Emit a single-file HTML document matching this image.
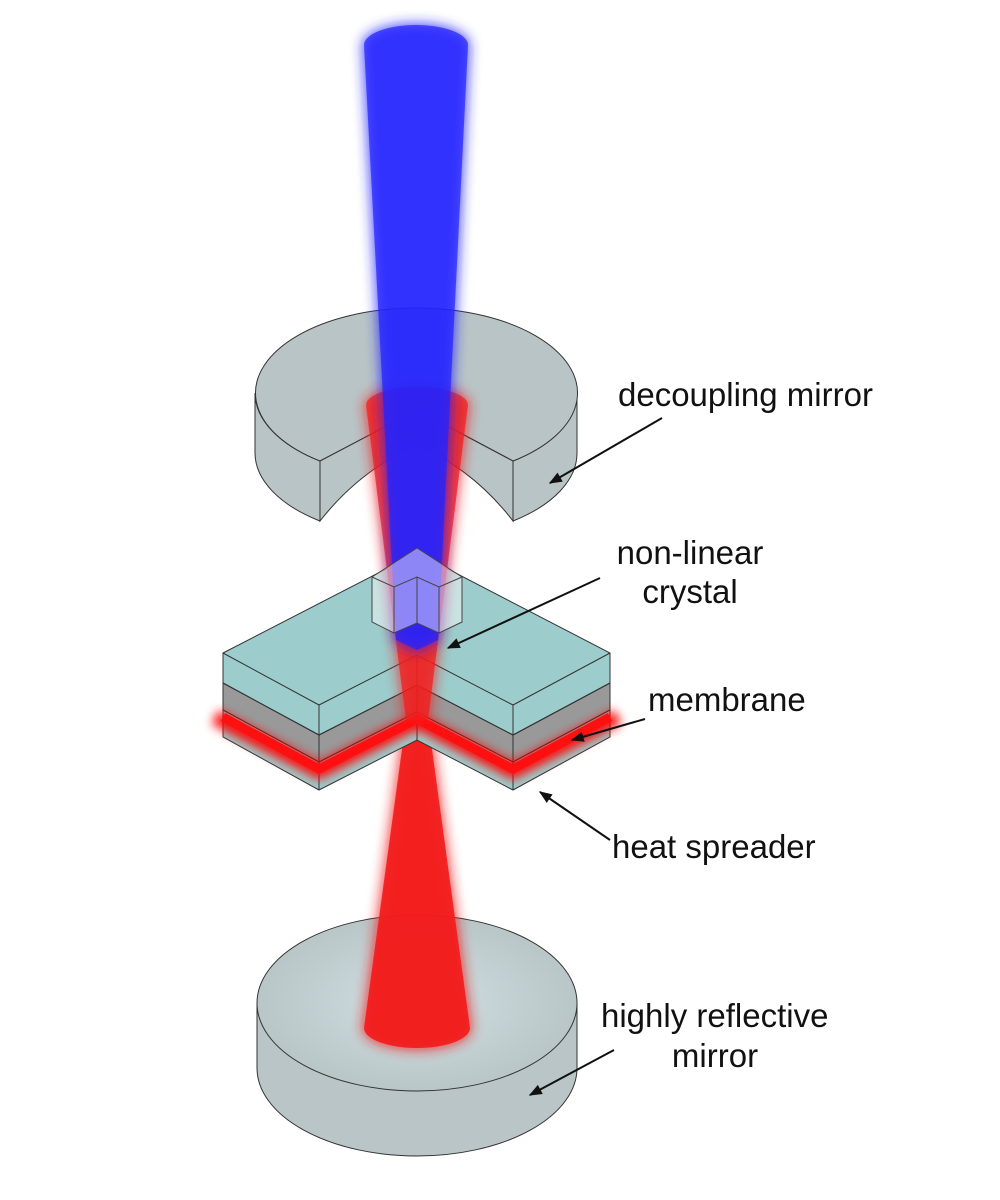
<!DOCTYPE html>
<html><head><meta charset="utf-8"><style>
html,body{margin:0;padding:0;background:#fff}
svg{display:block}
text{font-family:"Liberation Sans",sans-serif;font-size:33px;fill:#111}
</style></head><body>
<svg width="1000" height="1200" viewBox="0 0 1000 1200">
<defs>
<filter id="g" x="-50%" y="-20%" width="200%" height="140%"><feGaussianBlur stdDeviation="6"/></filter>
<filter id="g2" x="-20%" y="-100%" width="140%" height="300%"><feGaussianBlur stdDeviation="5"/></filter>
<radialGradient id="rg" cx="417" cy="1003" r="160" gradientUnits="userSpaceOnUse" gradientTransform="translate(0,1003) scale(1,0.55) translate(0,-1003)">
<stop offset="0" stop-color="#d2dfe2"/><stop offset="1" stop-color="#b9c6c8"/></radialGradient>
<marker id="ar" viewBox="0 0 10 10" refX="9" refY="5" markerWidth="15" markerHeight="13" orient="auto" markerUnits="userSpaceOnUse"><path d="M0,1 L10,5 L0,9 Z" fill="#111"/></marker>
</defs>

<!-- bottom mirror -->
<path d="M257,1003 L257,1068 A160,88 0 0 0 577,1068 L577,1003 Z" fill="#b9c5c7" stroke="#333" stroke-width="1"/>
<ellipse cx="417" cy="1003" rx="160" ry="88" fill="url(#rg)" stroke="#333" stroke-width="1"/>

<!-- lower red beam -->
<g fill="#f21c1c">
<path d="M404,720 L430,720 L472,1028 A55,22 0 0 1 362,1028 Z" filter="url(#g)" opacity="0.8"/>
<path d="M406,720 L428,720 L470,1028 A53,20 0 0 1 364,1028 Z" opacity="0.92"/>
</g>

<!-- membrane stack -->
<g stroke="#333" stroke-width="1">
<path d="M223,653 L417,553 L610,653 L610,737 L513,790 L417,740 L319,790 L223,737 Z" fill="#9ccccb"/>
<path d="M223,683 L319,735 L417,685 L513,735 L610,683 L610,710 L513,762 L417,712 L319,762 L223,710 Z" fill="#999"/>
<path d="M223,653 L319,705 L417,655 L513,705 L610,653" fill="none"/>
<path d="M223,683 L319,735 L417,685 L513,735 L610,683" fill="none"/>
<path d="M223,710 L319,762 L417,712 L513,762 L610,710" fill="none"/>
<path d="M319,705 L319,790 M513,705 L513,790 M417,655 L417,740" fill="none"/>
</g>
<path d="M215,717 L319,771 L417,721 L513,771 L618,717" stroke="#ff0000" stroke-width="16" fill="none" filter="url(#g2)" opacity="0.9"/>
<path d="M223,717 L319,769 L417,719 L513,769 L610,717" stroke="#ff1010" stroke-width="9" fill="none"/>

<!-- decoupling mirror -->
<g stroke="#333" stroke-width="1" fill="#b9c4c6">
<path d="M255,393 L255,453 A161,85 0 0 0 320,521 L320,461 A161,85 0 0 1 255,393 Z"/>
<path d="M577,393 L577,453 A161,85 0 0 1 513,521 L513,461 A161,85 0 0 0 577,393 Z"/>
<path d="M320,461 A161,85 0 1 1 513,461 L417,410 Z"/>
<path d="M417,410 L320,461 L320,521 Q360,470 417,445 Z"/>
<path d="M417,410 L513,461 L513,521 Q474,470 417,445 Z"/>
</g>

<!-- upper red beam -->
<g fill="#f21c1c">
<path d="M364,405 A53,20 0 0 1 470,405 L430,720 L404,720 Z" filter="url(#g)" opacity="0.7"/>
<path d="M366,405 A51,18 0 0 1 468,405 L428,720 L406,720 Z" opacity="0.7"/>
</g>

<!-- blue beam -->
<g fill="#2222ff">
<path d="M362,45 A54,22 0 0 1 470,45 L440,640 L417,652 L394,640 Z" filter="url(#g)" opacity="0.75"/>
<path d="M364,45 A52,20 0 0 1 468,45 L438,640 L417,650 L396,640 Z" opacity="0.72"/>
</g>

<!-- crystal -->
<g stroke="#444" stroke-width="1">
<path d="M417,548 L462,577 L462,622 L439,633 L417,623 L394,633 L372,622 L372,577 Z" fill="#ffffff" fill-opacity="0.45"/>
<path d="M372,577 L394,587 L417,577 L439,587 L462,577 M394,587 L394,633 M439,587 L439,633 M417,577 L417,623" fill="none"/>
</g>

<!-- labels -->
<text x="618" y="406">decoupling mirror</text>
<text x="690" y="564" text-anchor="middle">non-linear</text>
<text x="690" y="603" text-anchor="middle">crystal</text>
<text x="648" y="711">membrane</text>
<text x="612" y="858">heat spreader</text>
<text x="601" y="1027">highly reflective</text>
<text x="715" y="1067" text-anchor="middle">mirror</text>

<g stroke="#111" stroke-width="2" marker-end="url(#ar)">
<line x1="662" y1="418" x2="550" y2="483"/>
<line x1="600" y1="578" x2="448" y2="648"/>
<line x1="645" y1="719" x2="572" y2="740"/>
<line x1="610" y1="840" x2="540" y2="792"/>
<line x1="614" y1="1050" x2="530" y2="1095"/>
</g>
</svg>
</body></html>
